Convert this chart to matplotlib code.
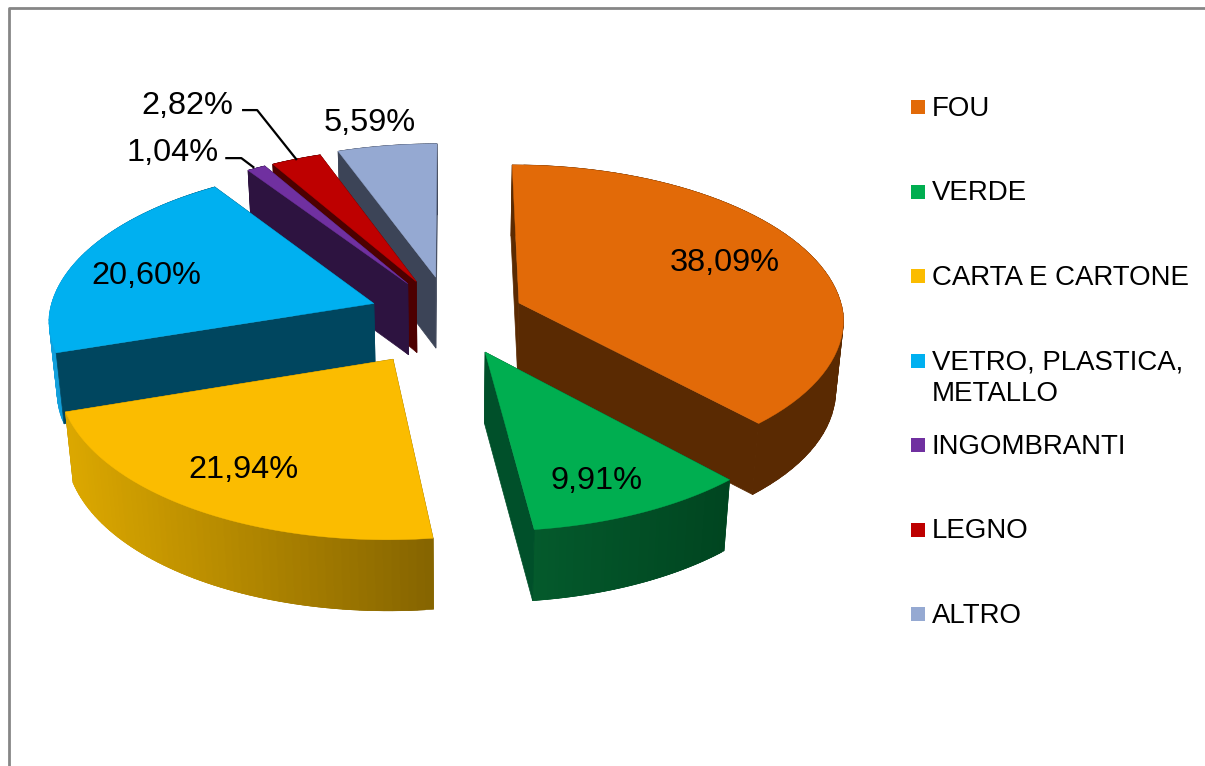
import matplotlib
matplotlib.use("Agg")
import matplotlib.pyplot as plt
from matplotlib.colors import to_rgb
from matplotlib.patches import Rectangle
import numpy as np

categories = ["FOU", "VERDE", "CARTA E CARTONE", "VETRO, PLASTICA,\nMETALLO",
              "INGOMBRANTI", "LEGNO", "ALTRO"]
values = [38.09, 9.91, 21.94, 20.60, 1.04, 2.82, 5.59]

top_colors = ["#E26A08", "#00AE50", "#FBBC00", "#00B0F0", "#7030A0", "#BE0000", "#95A9D2"]
edge_colors = ["#5A2A02", "#00502A", "#8A6A00", "#00465F", "#2D1340", "#4D0000", "#3C4457"]
# outer wall colour at left and right end of each slice
wall_left = ["#5A2A02", "#045A2C", "#DCA800", "#12A0DC", "#2D1340", "#4D0000", "#3C4457"]
wall_right = ["#5A2A02", "#004520", "#856400", "#00465F", "#2D1340", "#4D0000", "#3C4457"]

explode = [0.23, 0.25, 0.32, 0.25, 0.25, 0.25, 0.26]
draw_order = [6, 5, 4, 0, 3, 1, 2]

# pixel offset of each value label from its anchor on the slice
label_r = [0.7, 0.7, 0.7, 0.7, 1.0, 1.0, 0.7]
label_off = [(4, -2), (5, 19), (-14, 8), (-21, 6), (-84, -15), (-109, -53), (-31, -59)]
leader_off = {4: [(-30, -10), (-15, -10), (-3, -1)], 5: [(-53, -49), (-39, -49), (0, 0)]}

cx, cy = 450, 316
a, b = 325, 156
k_far, k_near = 0.11, 0.09
depth = 71
shrink = 0.98

plt.rcParams["font.family"] = ["Liberation Sans", "DejaVu Sans"]

fig = plt.figure(figsize=(12.05, 7.66), dpi=100)
ax = fig.add_axes([0, 0, 1, 1])
ax.set_xlim(0, 1205)
ax.set_ylim(766, 0)
ax.axis("off")

# chart frame, cut off at right and bottom
ax.plot([9, 9, 1205], [766, 8, 8], color="#868686", lw=2.0)


def project(theta, r, e, mid):
    # polar position in the pie plane -> screen, with a bit of perspective
    t = np.radians(theta)
    m = np.radians(mid)
    u = r * np.sin(t) + e * np.sin(m)
    v = r * np.cos(t) + e * np.cos(m)
    w = 1 + np.where(v > 0, k_far, k_near) * v
    return cx + a * u / w, cy - b * v / w


def lower(x, y):
    return cx + (x - cx) * shrink, y + depth


shares = np.array(values) / sum(values) * 360
ends = np.cumsum(shares)
starts = ends - shares
mids = (starts + ends) / 2

for i in draw_order:
    th = np.linspace(starts[i], ends[i], 61)
    xs, ys = project(th, 1.0, explode[i], mids[i])
    ax0, ay0 = project(0, 0, explode[i], mids[i])
    bx, by = lower(xs, ys)
    abx, aby = lower(ax0, ay0)

    start_face = ([ax0, xs[0], bx[0], abx], [ay0, ys[0], by[0], aby])
    end_face = ([ax0, xs[-1], bx[-1], abx], [ay0, ys[-1], by[-1], aby])
    faces_back, faces_front = [], []
    (faces_front if np.sin(np.radians(starts[i])) < -1e-6 else faces_back).append(start_face)
    (faces_front if np.sin(np.radians(ends[i])) > 1e-6 else faces_back).append(end_face)

    for fx, fy in faces_back:
        ax.fill(fx, fy, color=edge_colors[i], lw=0.5)

    # outer wall as small overlapping strips so the shading can change along it
    c1, c2 = np.array(to_rgb(wall_left[i])), np.array(to_rgb(wall_right[i]))
    span = max(xs.max() - xs.min(), 1)
    for j in range(len(th) - 1):
        n = min(j + 2, len(th) - 1)
        f = ((xs[j] + xs[j + 1]) / 2 - xs.min()) / span
        ax.fill([xs[j], xs[n], bx[n], bx[j]], [ys[j], ys[n], by[n], by[j]],
                color=c1 + (c2 - c1) * f, lw=0.5)

    for fx, fy in faces_front:
        ax.fill(fx, fy, color=edge_colors[i], lw=0.5)

    ax.fill(np.r_[ax0, xs], np.r_[ay0, ys], color=top_colors[i], lw=0.3)

# value labels
for i, v in enumerate(values):
    px, py = project(mids[i], label_r[i], explode[i], mids[i])
    ax.text(px + label_off[i][0], py + label_off[i][1], f"{v:.2f}%".replace(".", ","),
            fontsize=23.4, ha="center", va="center", color="black")
    if i in leader_off:
        ax.plot([px + o[0] for o in leader_off[i]], [py + o[1] for o in leader_off[i]],
                color="black", lw=1.6)

# legend
for i, name in enumerate(categories):
    y = 107 + 84.5 * i
    ax.add_patch(Rectangle((911, y - 7), 14, 14, color=top_colors[i], lw=0))
    ax.text(932, y - 11, name, fontsize=19.9, ha="left", va="top", linespacing=1.28, color="black")

fig.savefig("out.png", dpi=100)
